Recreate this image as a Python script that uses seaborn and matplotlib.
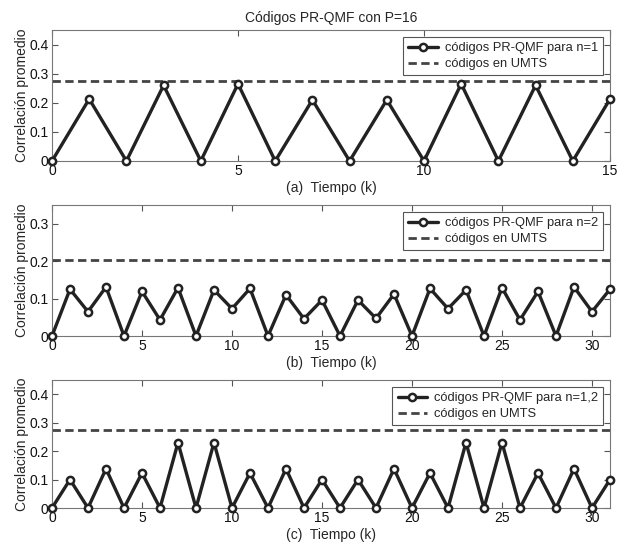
import numpy as np
import pandas as pd
import matplotlib
matplotlib.use("Agg")
import matplotlib.pyplot as plt
import seaborn as sns

# ---- data ----
k_a = list(range(16))
corr_a = [0, 0.213, 0, 0.26, 0, 0.265, 0, 0.21, 0, 0.21, 0, 0.265, 0, 0.26, 0, 0.213]
umts_a = 0.275

k_b = list(range(32))
corr_b = [0, 0.125, 0.065, 0.131, 0, 0.119, 0.043, 0.129, 0, 0.123, 0.073, 0.127,
          0, 0.110, 0.046, 0.096, 0, 0.096, 0.047, 0.112, 0, 0.127, 0.073, 0.123,
          0, 0.129, 0.043, 0.119, 0, 0.131, 0.065, 0.125]
umts_b = 0.203

k_c = list(range(32))
corr_c = [0, 0.10, 0, 0.138, 0, 0.123, 0, 0.23, 0, 0.23, 0, 0.123, 0, 0.138, 0, 0.10,
          0, 0.10, 0, 0.138, 0, 0.123, 0, 0.23, 0, 0.23, 0, 0.123, 0, 0.138, 0, 0.10]
umts_c = 0.275

labels_series = ["códigos PR-QMF para n=1", "códigos PR-QMF para n=2", "códigos PR-QMF para n=1,2"]
label_umts = "códigos en UMTS"
xlabels = ["(a)  Tiempo (k)", "(b)  Tiempo (k)", "(c)  Tiempo (k)"]
ylabel = "Correlación promedio"
title = "Códigos PR-QMF con P=16"

sns.set_style("ticks")
plt.rcParams['font.family'] = ['Liberation Sans', 'DejaVu Sans']
plt.rcParams['font.size'] = 9

fig = plt.figure(figsize=(6.24, 5.49), dpi=100)

W, H = 624, 549
def rect(l, t, r, b):
    return [l / W, (H - b) / H, (r - l) / W, (b - t) / H]

panels = [
    dict(rect=rect(52, 30, 610, 161), k=k_a, y=corr_a, u=umts_a, ylim=0.45,
         yt=[0, 0.1, 0.2, 0.3, 0.4], xmax=15, xt=[0, 5, 10, 15]),
    dict(rect=rect(52, 205, 610, 336), k=k_b, y=corr_b, u=umts_b, ylim=0.35,
         yt=[0, 0.1, 0.2, 0.3], xmax=31, xt=[0, 5, 10, 15, 20, 25, 30]),
    dict(rect=rect(52, 380, 610, 508), k=k_c, y=corr_c, u=umts_c, ylim=0.45,
         yt=[0, 0.1, 0.2, 0.3, 0.4], xmax=31, xt=[0, 5, 10, 15, 20, 25, 30]),
]

for i, p in enumerate(panels):
    ax = fig.add_axes(p["rect"])
    df = pd.DataFrame({"k": p["k"], "c": p["y"]})
    sns.lineplot(data=df, x="k", y="c", ax=ax, color="#222222", linewidth=2.4,
                 marker="o", markersize=5.2, markerfacecolor="white",
                 markeredgecolor="#222222", markeredgewidth=1.8,
                 label=labels_series[i], zorder=3, clip_on=False)
    ax.axhline(p["u"], color="#444444", linestyle=(0, (3, 1.6)), linewidth=2.0,
               label=label_umts, zorder=2)
    ax.set_xlim(0, p["xmax"])
    ax.set_ylim(0, p["ylim"])
    ax.set_xticks(p["xt"])
    ax.set_xticklabels([str(v) for v in p["xt"]])
    ax.set_yticks(p["yt"])
    ax.set_yticklabels(["0" if v == 0 else f"{v:.1f}" for v in p["yt"]])
    ax.tick_params(direction="in", length=4, width=0.8, color="#555555",
                   top=True, right=True, labelsize=10, labelcolor="#111111")
    ax.tick_params(axis="x", pad=2.5)
    ax.tick_params(axis="y", pad=2.5)
    for s in ax.spines.values():
        s.set_color("#777777")
        s.set_linewidth(0.8)
        s.set_visible(True)
    ax.set_xlabel(xlabels[i], fontsize=10, labelpad=2)
    ax.set_ylabel(ylabel, fontsize=10)
    ax.yaxis.set_label_coords(-0.041, 0.5)
    leg = ax.legend(loc="upper right", bbox_to_anchor=(0.9875, 0.945), fontsize=9.3,
                    frameon=True, fancybox=False, framealpha=1, edgecolor="#555555",
                    borderpad=0.4, labelspacing=0.3, handlelength=2.3,
                    handletextpad=0.5, borderaxespad=0)
    leg.get_frame().set_linewidth(0.8)
    if i == 0:
        ax.set_title(title, fontsize=10, pad=6)

fig.savefig("out.png", dpi=100)
